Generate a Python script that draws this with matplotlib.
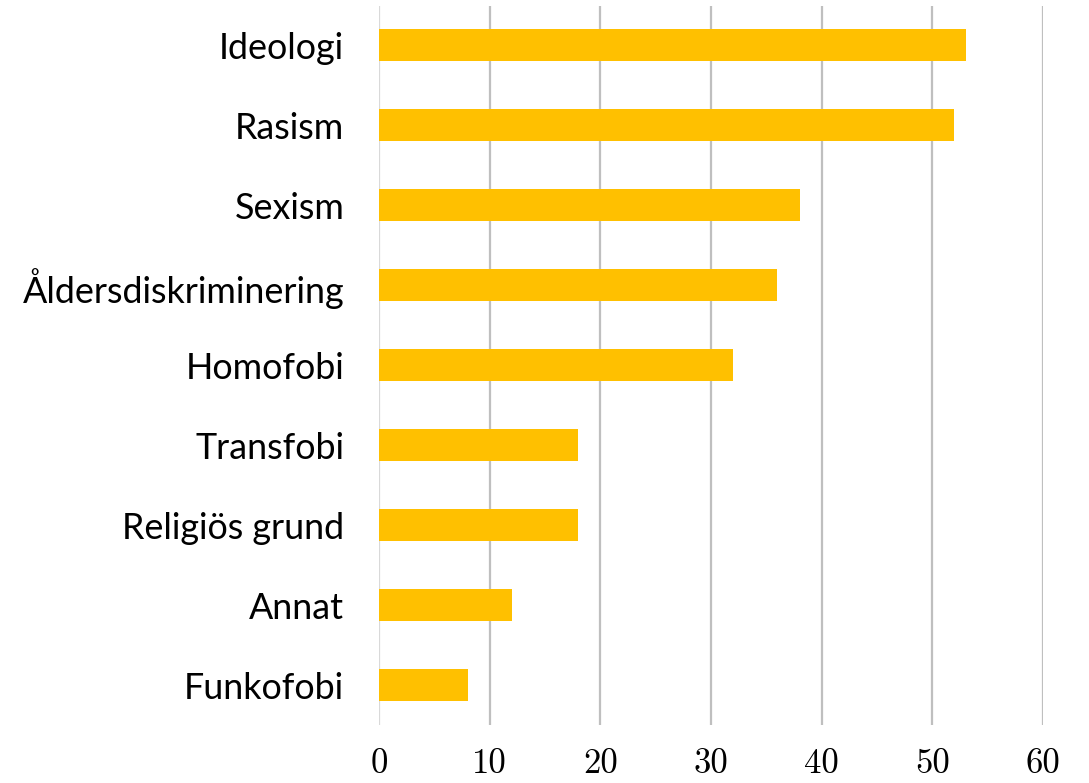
import matplotlib
matplotlib.use("Agg")
import matplotlib.pyplot as plt

categories = ["Ideologi", "Rasism", "Sexism", "Åldersdiskriminering", "Homofobi",
              "Transfobi", "Religiös grund", "Annat", "Funkofobi"]
values = [53, 52, 38, 36, 32, 18, 18, 12, 8]
xticks = [0, 10, 20, 30, 40, 50, 60]

fig = plt.figure(figsize=(10.89, 7.83), dpi=100)
ax = fig.add_axes([379 / 1089, 1 - 725 / 783, (1043 - 379) / 1089, (725 - 5.5) / 783])

pos = list(range(len(categories)))[::-1]
ax.barh(pos, values, height=0.4, color="#FFC000", zorder=3)

ax.set_xlim(0, 60)
ax.set_ylim(-0.5, len(categories) - 0.5)
ax.set_xticks(xticks)
ax.set_xticklabels([str(t) for t in xticks], family="cmr10", fontsize=25)
ax.set_yticks(pos)
ax.set_yticklabels(categories, family="Lato", fontsize=25.8)
ax.tick_params(axis="both", length=0)
ax.tick_params(axis="x", pad=17)
ax.tick_params(axis="y", pad=25)

ax.grid(axis="x", color="#BFBFBF", linewidth=1.6, zorder=0)
ax.get_xgridlines()[0].set_color("#D9D9D9")
for s in ax.spines.values():
    s.set_visible(False)

fig.savefig("out.png", dpi=100)
